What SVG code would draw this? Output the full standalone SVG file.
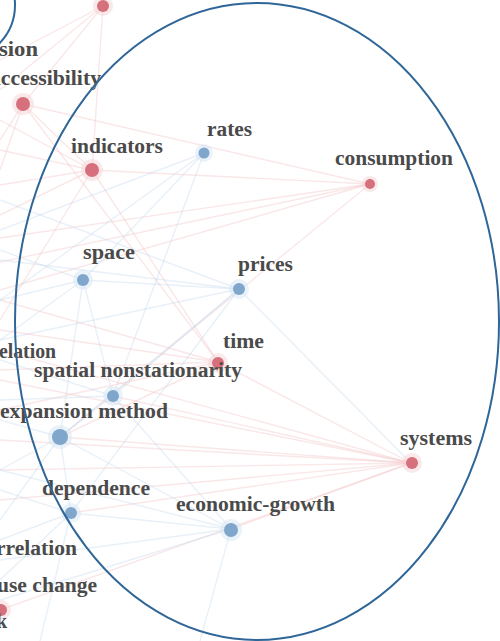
<svg xmlns="http://www.w3.org/2000/svg" width="500" height="641" viewBox="0 0 500 641">
<style>
.lbl{font-family:"Liberation Serif","Times New Roman",serif;font-weight:bold;font-size:20px;fill:#4a4a4a}
.er{stroke:#f2c2c6;stroke-width:1.4;fill:none;opacity:0.4}
.eb{stroke:#c6daee;stroke-width:1.4;fill:none;opacity:0.4}
.nr{fill:#d6707c}
.nb{fill:#80a6cb}
.hr{fill:#f6d3d6;opacity:0.5}
.hb{fill:#d6e6f5;opacity:0.5}
.ring{fill:none;stroke:#2f6698;stroke-width:2}
</style>
<rect width="500" height="641" fill="#ffffff"/>
<g id="connectors">
  <!-- consumption -->
  <line class="er" x1="370" y1="184" x2="0" y2="238"/>
  <line class="er" x1="370" y1="184" x2="0" y2="262"/>
  <line class="er" x1="370" y1="184" x2="0" y2="290"/>
  <line class="er" x1="370" y1="184" x2="92" y2="170"/>
  <line class="er" x1="370" y1="184" x2="23" y2="104"/>
  <line class="er" x1="370" y1="184" x2="60" y2="437"/>
  <!-- systems -->
  <line class="er" x1="411" y1="463" x2="218" y2="362"/>
  <line class="er" x1="411" y1="463" x2="113" y2="396"/>
  <line class="er" x1="411" y1="463" x2="60" y2="437"/>
  <line class="er" x1="411" y1="463" x2="0" y2="440"/>
  <line class="er" x1="411" y1="463" x2="0" y2="470"/>
  <line class="er" x1="411" y1="463" x2="0" y2="500"/>
  <line class="er" x1="411" y1="463" x2="71" y2="513"/>
  <line class="er" x1="411" y1="463" x2="0" y2="380"/>
  <line class="er" x1="411" y1="463" x2="0" y2="350"/>
  <line class="eb" x1="411" y1="463" x2="239" y2="289" opacity="0.3"/>
  <line class="er" x1="411" y1="463" x2="231" y2="529"/>
  <line class="er" x1="411" y1="463" x2="0" y2="610"/>
  <!-- indicators -->
  <line class="er" x1="92" y1="170" x2="0" y2="150"/>
  <line class="er" x1="92" y1="170" x2="0" y2="185"/>
  <line class="er" x1="92" y1="170" x2="0" y2="215"/>
  <line class="er" x1="92" y1="170" x2="23" y2="104"/>
  <line class="er" x1="92" y1="170" x2="103" y2="6"/>
  <line class="er" x1="92" y1="170" x2="218" y2="362"/>
  <line class="er" x1="92" y1="170" x2="0" y2="320"/>
  <line class="er" x1="92" y1="170" x2="0" y2="120"/>
  <!-- top node / accessibility -->
  <line class="er" x1="103" y1="6" x2="0" y2="60"/>
  <line class="er" x1="103" y1="6" x2="0" y2="90"/>
  <line class="er" x1="103" y1="6" x2="23" y2="104"/>
  <line class="er" x1="23" y1="104" x2="0" y2="140"/>
  <line class="er" x1="23" y1="104" x2="0" y2="170"/>
  <line class="er" x1="23" y1="104" x2="218" y2="362"/>
  <!-- rates -->
  <line class="eb" x1="204" y1="153" x2="113" y2="396"/>
  <line class="eb" x1="204" y1="153" x2="0" y2="230"/>
  <line class="eb" x1="204" y1="153" x2="83" y2="280"/>
  <line class="eb" x1="204" y1="153" x2="0" y2="300"/>
  <!-- prices -->
  <line class="eb" x1="239" y1="289" x2="0" y2="200"/>
  <line class="eb" x1="239" y1="289" x2="0" y2="260"/>
  <line class="eb" x1="239" y1="289" x2="83" y2="280"/>
  <line class="eb" x1="239" y1="289" x2="113" y2="396"/>
  <line class="eb" x1="239" y1="289" x2="60" y2="437"/>
  <line class="eb" x1="239" y1="289" x2="0" y2="340"/>
  <line class="eb" x1="239" y1="289" x2="71" y2="513"/>
  <!-- space -->
  <line class="eb" x1="83" y1="280" x2="0" y2="250"/>
  <line class="eb" x1="83" y1="280" x2="0" y2="300"/>
  <line class="eb" x1="83" y1="280" x2="113" y2="396"/>
  <line class="eb" x1="83" y1="280" x2="60" y2="437"/>
  <line class="eb" x1="83" y1="280" x2="0" y2="340"/>
  <!-- time -->
  <line class="er" x1="218" y1="362" x2="0" y2="330"/>
  <line class="er" x1="218" y1="362" x2="0" y2="370"/>
  <line class="er" x1="218" y1="362" x2="0" y2="300"/>
  <line class="er" x1="218" y1="362" x2="60" y2="437"/>
  <line class="er" x1="218" y1="362" x2="0" y2="410"/>
  <!-- spatial nonstationarity / expansion -->
  <line class="eb" x1="113" y1="396" x2="0" y2="400"/>
  <line class="eb" x1="113" y1="396" x2="60" y2="437"/>
  <line class="eb" x1="113" y1="396" x2="0" y2="360"/>
  <line class="eb" x1="60" y1="437" x2="0" y2="470"/>
  <line class="eb" x1="60" y1="437" x2="0" y2="420"/>
  <line class="eb" x1="60" y1="437" x2="71" y2="513"/>
  <line class="eb" x1="60" y1="437" x2="0" y2="520"/>
  <!-- dependence -->
  <line class="eb" x1="71" y1="513" x2="0" y2="490"/>
  <line class="eb" x1="71" y1="513" x2="0" y2="540"/>
  <line class="eb" x1="71" y1="513" x2="0" y2="580"/>
  <line class="eb" x1="71" y1="513" x2="231" y2="529"/>
  <line class="eb" x1="71" y1="513" x2="40" y2="641" opacity="0.25"/>
  <!-- economic-growth -->
  <line class="eb" x1="231" y1="529" x2="0" y2="470"/>
  <line class="eb" x1="231" y1="529" x2="0" y2="560"/>
  <line class="eb" x1="231" y1="529" x2="0" y2="600"/>
  <line class="eb" x1="231" y1="529" x2="60" y2="437"/>
  <line class="eb" x1="231" y1="529" x2="200" y2="641" opacity="0.25"/>
  <line class="eb" x1="231" y1="529" x2="113" y2="396"/>
</g>
<g id="node-top"><circle class="hr" cx="103" cy="6" r="10"/><circle class="nr" cx="103" cy="6" r="6"/></g>
<g id="node-sion"><text class="lbl" x="-1" y="56" textLength="39" lengthAdjust="spacingAndGlyphs">sion</text></g>
<g id="node-accessibility"><text class="lbl" x="-10" y="85" textLength="111" lengthAdjust="spacingAndGlyphs">accessibility</text><circle class="hr" cx="23" cy="104" r="11"/><circle class="nr" cx="23" cy="104" r="7"/></g>
<g id="node-indicators"><text class="lbl" x="71" y="153" textLength="92" lengthAdjust="spacingAndGlyphs">indicators</text><circle class="hr" cx="92" cy="170" r="11"/><circle class="nr" cx="92" cy="170" r="7"/></g>
<g id="node-rates"><text class="lbl" x="207" y="136" textLength="45" lengthAdjust="spacingAndGlyphs">rates</text><circle class="hb" cx="204" cy="153" r="9"/><circle class="nb" cx="204" cy="153" r="5.5"/></g>
<g id="node-consumption"><text class="lbl" x="335" y="165" textLength="118" lengthAdjust="spacingAndGlyphs">consumption</text><circle class="hr" cx="370" cy="184" r="8"/><circle class="nr" cx="370" cy="184" r="5"/></g>
<g id="node-space"><text class="lbl" x="83" y="259" textLength="52" lengthAdjust="spacingAndGlyphs">space</text><circle class="hb" cx="83" cy="280" r="10"/><circle class="nb" cx="83" cy="280" r="6"/></g>
<g id="node-prices"><text class="lbl" x="238" y="271" textLength="55" lengthAdjust="spacingAndGlyphs">prices</text><circle class="hb" cx="239" cy="289" r="10"/><circle class="nb" cx="239" cy="289" r="6"/></g>
<g id="node-time"><text class="lbl" x="223" y="348" textLength="41" lengthAdjust="spacingAndGlyphs">time</text><circle class="hr" cx="218" cy="363" r="10"/><circle class="nr" cx="218" cy="363" r="6"/></g>
<g id="node-elation"><text class="lbl" x="-1" y="358" textLength="57" lengthAdjust="spacingAndGlyphs">elation</text></g>
<g id="node-spatial-nonstationarity"><text class="lbl" x="34" y="377" textLength="208" lengthAdjust="spacingAndGlyphs">spatial nonstationarity</text><circle class="hb" cx="113" cy="396" r="10"/><circle class="nb" cx="113" cy="396" r="6"/></g>
<g id="node-expansion-method"><text class="lbl" x="0" y="418" textLength="168" lengthAdjust="spacingAndGlyphs">expansion method</text><circle class="hb" cx="60" cy="437" r="12"/><circle class="nb" cx="60" cy="437" r="8"/></g>
<g id="node-dependence"><text class="lbl" x="42" y="495" textLength="108" lengthAdjust="spacingAndGlyphs">dependence</text><circle class="hb" cx="71" cy="513" r="10"/><circle class="nb" cx="71" cy="513" r="6"/></g>
<g id="node-economic-growth"><text class="lbl" x="176" y="511" textLength="159" lengthAdjust="spacingAndGlyphs">economic-growth</text><circle class="hb" cx="231" cy="530" r="11"/><circle class="nb" cx="231" cy="530" r="7"/></g>
<g id="node-systems"><text class="lbl" x="400" y="445" textLength="72" lengthAdjust="spacingAndGlyphs">systems</text><circle class="hr" cx="412" cy="463" r="10"/><circle class="nr" cx="412" cy="463" r="6"/></g>
<g id="node-rrelation"><text class="lbl" x="-4" y="555" textLength="81" lengthAdjust="spacingAndGlyphs">rrelation</text></g>
<g id="node-use-change"><text class="lbl" x="-3" y="592" textLength="100" lengthAdjust="spacingAndGlyphs">use change</text></g>
<g id="node-bottom"><circle class="hr" cx="1" cy="610" r="10"/><circle class="nr" cx="1" cy="610" r="6"/><text class="lbl" x="-4" y="628">k</text></g>
<g id="highlight">
  <ellipse class="ring" cx="257" cy="321.5" rx="242" ry="318.5"/>
  <circle class="ring" cx="-40" cy="5" r="55"/>
</g>
</svg>
